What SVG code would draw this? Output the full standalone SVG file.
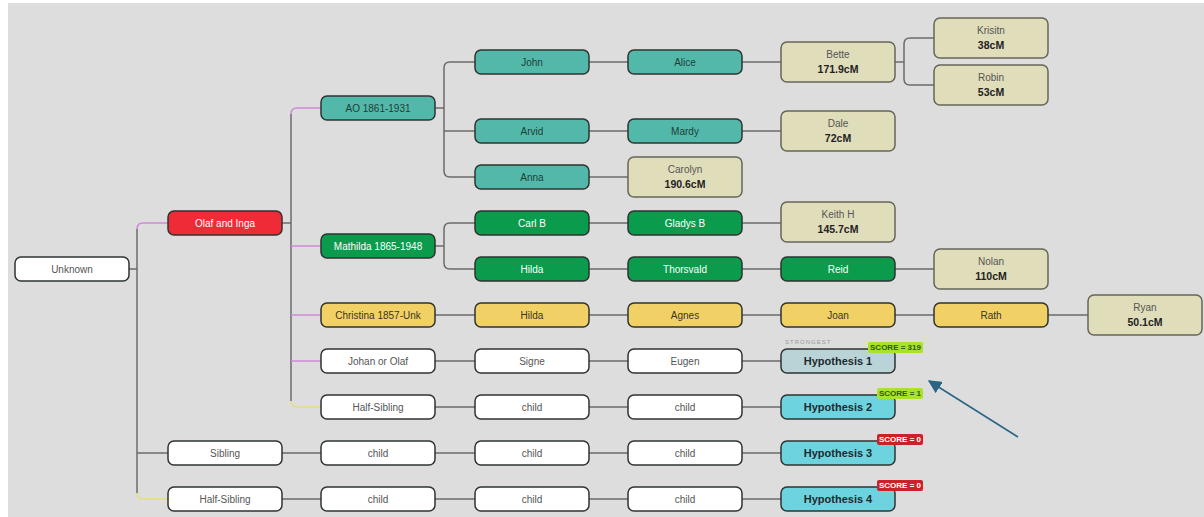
<svg xmlns="http://www.w3.org/2000/svg" width="1204" height="517" viewBox="0 0 1204 517">
<defs>
<style>
.n{stroke:#2e3430;stroke-width:1.5}
.w{fill:#ffffff}.t{fill:#52b9aa}.g{fill:#0b9b4c}.r{fill:#ee2b36}.y{fill:#f1d166}.c{fill:#e0ddba;stroke:#66665a}
.h1{fill:#b9d3d7}.h{fill:#6dd3df}
text{font-family:"Liberation Sans",Arial,sans-serif;font-size:10px;text-anchor:middle;dominant-baseline:central}
.tw{fill:#555}.tt{fill:#1f3d38}.tg{fill:#ffffff}.ty{fill:#3a3520}.tn{fill:#555}
.tb{font-weight:bold;fill:#222;font-size:10.5px}
.th{font-weight:bold;fill:#1d2a30;font-size:11px}
.ln{fill:none;stroke:#6b6b6b;stroke-width:1.5}
.pk{fill:none;stroke:#cf8ad6;stroke-width:1.5}
.yl{fill:none;stroke:#e3e07a;stroke-width:1.5}
.bg{fill:#a9e22c}.bt{fill:#2f5a10;font-size:8px;font-weight:bold}
.br{fill:#c92228}.brt{fill:#ffffff;font-size:8px;font-weight:bold}
</style>
<marker id="ah" viewBox="0 0 10 10" refX="9" refY="5" markerWidth="9" markerHeight="9" orient="auto"><path d="M0,0 L10,5 L0,10 z" fill="#2a6485"/></marker>
</defs>
<rect x="0" y="0" width="1204" height="517" fill="#ffffff"/>
<rect x="8" y="3" width="1196" height="514" fill="#dddddd"/>
<g id="connectors">
<path class="ln" d="M128,269 H137"/>
<path class="ln" d="M137,229 V493"/>
<path class="pk" d="M137,229 Q137,223 143,223 H168"/>
<path class="ln" d="M137,453 H168"/>
<path class="yl" d="M137,493 Q137,499 143,499 H168"/>
<path class="ln" d="M282,223 H291"/>
<path class="ln" d="M291,114 V401"/>
<path class="pk" d="M291,114 Q291,108 297,108 H321"/>
<path class="pk" d="M291,246 H321"/>
<path class="pk" d="M291,315 H321"/>
<path class="pk" d="M291,361 H321"/>
<path class="yl" d="M291,401 Q291,407 297,407 H321"/>
<path class="ln" d="M435,108 H444"/>
<path class="ln" d="M475,62 H450 Q444,62 444,68 V171 Q444,177 450,177 H475"/>
<path class="ln" d="M444,131 H475"/>
<path class="ln" d="M435,246 H444"/>
<path class="ln" d="M475,223 H450 Q444,223 444,229 V263 Q444,269 450,269 H475"/>
<path class="ln" d="M895,62 H904"/>
<path class="ln" d="M934,38 H910 Q904,38 904,44 V79 Q904,85 910,85 H934"/>
<path class="ln" d="M589,62 H628 M742,62 H781"/>
<path class="ln" d="M589,131 H628 M742,131 H781"/>
<path class="ln" d="M589,177 H628"/>
<path class="ln" d="M589,223 H628 M742,223 H781"/>
<path class="ln" d="M589,269 H628 M742,269 H781 M895,269 H934"/>
<path class="ln" d="M435,315 H475 M589,315 H628 M742,315 H781 M895,315 H934 M1048,315 H1088"/>
<path class="ln" d="M435,361 H475 M589,361 H628 M742,361 H781"/>
<path class="ln" d="M435,407 H475 M589,407 H628 M742,407 H781"/>
<path class="ln" d="M282,453 H321 M435,453 H475 M589,453 H628 M742,453 H781"/>
<path class="ln" d="M282,499 H321 M435,499 H475 M589,499 H628 M742,499 H781"/>
</g>
<g id="n-unknown"><rect class="n w" x="15" y="257" width="114" height="24" rx="6"/><text class="tw" x="72" y="269">Unknown</text></g>
<g id="n-olaf-inga"><rect class="n r" x="168" y="211" width="114" height="24" rx="6"/><text class="tg" x="225" y="223">Olaf and Inga</text></g>
<g id="n-sibling"><rect class="n w" x="168" y="441" width="114" height="24" rx="6"/><text class="tw" x="225" y="453">Sibling</text></g>
<g id="n-halfsib-a"><rect class="n w" x="168" y="487" width="114" height="24" rx="6"/><text class="tw" x="225" y="499">Half-Sibling</text></g>
<g id="n-ao"><rect class="n t" x="321" y="96" width="114" height="24" rx="6"/><text class="tt" x="378" y="108">AO 1861-1931</text></g>
<g id="n-mathilda"><rect class="n g" x="321" y="234" width="114" height="24" rx="6"/><text class="tg" x="378" y="246">Mathilda 1865-1948</text></g>
<g id="n-christina"><rect class="n y" x="321" y="303" width="114" height="24" rx="6"/><text class="ty" x="378" y="315">Christina 1857-Unk</text></g>
<g id="n-johan"><rect class="n w" x="321" y="349" width="114" height="24" rx="6"/><text class="tw" x="378" y="361">Johan or Olaf</text></g>
<g id="n-halfsib-b"><rect class="n w" x="321" y="395" width="114" height="24" rx="6"/><text class="tw" x="378" y="407">Half-Sibling</text></g>
<g id="n-child-3a"><rect class="n w" x="321" y="441" width="114" height="24" rx="6"/><text class="tw" x="378" y="453">child</text></g>
<g id="n-child-3b"><rect class="n w" x="321" y="487" width="114" height="24" rx="6"/><text class="tw" x="378" y="499">child</text></g>
<g id="n-john"><rect class="n t" x="475" y="50" width="114" height="24" rx="6"/><text class="tt" x="532" y="62">John</text></g>
<g id="n-arvid"><rect class="n t" x="475" y="119" width="114" height="24" rx="6"/><text class="tt" x="532" y="131">Arvid</text></g>
<g id="n-anna"><rect class="n t" x="475" y="165" width="114" height="24" rx="6"/><text class="tt" x="532" y="177">Anna</text></g>
<g id="n-carlb"><rect class="n g" x="475" y="211" width="114" height="24" rx="6"/><text class="tg" x="532" y="223">Carl B</text></g>
<g id="n-hilda-g"><rect class="n g" x="475" y="257" width="114" height="24" rx="6"/><text class="tg" x="532" y="269">Hilda</text></g>
<g id="n-hilda-y"><rect class="n y" x="475" y="303" width="114" height="24" rx="6"/><text class="ty" x="532" y="315">Hilda</text></g>
<g id="n-signe"><rect class="n w" x="475" y="349" width="114" height="24" rx="6"/><text class="tw" x="532" y="361">Signe</text></g>
<g id="n-child-4a"><rect class="n w" x="475" y="395" width="114" height="24" rx="6"/><text class="tw" x="532" y="407">child</text></g>
<g id="n-child-4b"><rect class="n w" x="475" y="441" width="114" height="24" rx="6"/><text class="tw" x="532" y="453">child</text></g>
<g id="n-child-4c"><rect class="n w" x="475" y="487" width="114" height="24" rx="6"/><text class="tw" x="532" y="499">child</text></g>
<g id="n-alice"><rect class="n t" x="628" y="50" width="114" height="24" rx="6"/><text class="tt" x="685" y="62">Alice</text></g>
<g id="n-mardy"><rect class="n t" x="628" y="119" width="114" height="24" rx="6"/><text class="tt" x="685" y="131">Mardy</text></g>
<g id="n-carolyn"><rect class="n c" x="628" y="157" width="114" height="40" rx="6"/><text class="tn" x="685" y="169">Carolyn</text><text class="tb" x="685" y="184">190.6cM</text></g>
<g id="n-gladys"><rect class="n g" x="628" y="211" width="114" height="24" rx="6"/><text class="tg" x="685" y="223">Gladys B</text></g>
<g id="n-thorsvald"><rect class="n g" x="628" y="257" width="114" height="24" rx="6"/><text class="tg" x="685" y="269">Thorsvald</text></g>
<g id="n-agnes"><rect class="n y" x="628" y="303" width="114" height="24" rx="6"/><text class="ty" x="685" y="315">Agnes</text></g>
<g id="n-eugen"><rect class="n w" x="628" y="349" width="114" height="24" rx="6"/><text class="tw" x="685" y="361">Eugen</text></g>
<g id="n-child-5a"><rect class="n w" x="628" y="395" width="114" height="24" rx="6"/><text class="tw" x="685" y="407">child</text></g>
<g id="n-child-5b"><rect class="n w" x="628" y="441" width="114" height="24" rx="6"/><text class="tw" x="685" y="453">child</text></g>
<g id="n-child-5c"><rect class="n w" x="628" y="487" width="114" height="24" rx="6"/><text class="tw" x="685" y="499">child</text></g>
<g id="n-bette"><rect class="n c" x="781" y="42" width="114" height="40" rx="6"/><text class="tn" x="838" y="54">Bette</text><text class="tb" x="838" y="69">171.9cM</text></g>
<g id="n-dale"><rect class="n c" x="781" y="111" width="114" height="40" rx="6"/><text class="tn" x="838" y="123">Dale</text><text class="tb" x="838" y="138">72cM</text></g>
<g id="n-keith"><rect class="n c" x="781" y="202" width="114" height="40" rx="6"/><text class="tn" x="838" y="214">Keith H</text><text class="tb" x="838" y="229">145.7cM</text></g>
<g id="n-reid"><rect class="n g" x="781" y="257" width="114" height="24" rx="6"/><text class="tg" x="838" y="269">Reid</text></g>
<g id="n-joan"><rect class="n y" x="781" y="303" width="114" height="24" rx="6"/><text class="ty" x="838" y="315">Joan</text></g>
<g id="n-hyp1"><text x="785" y="342" style="font-size:6px;fill:#999;text-anchor:start;letter-spacing:1px">STRONGEST</text><rect class="n h1" x="781" y="349" width="114" height="24" rx="6"/><text class="th" x="838" y="361">Hypothesis 1</text><rect class="bg" x="868" y="342" width="55" height="11" rx="2"/><text class="bt" x="895.5" y="347.5">SCORE = 319</text></g>
<g id="n-hyp2"><rect class="n h" x="781" y="395" width="114" height="24" rx="6"/><text class="th" x="838" y="407">Hypothesis 2</text><rect class="bg" x="877" y="388" width="46" height="11" rx="2"/><text class="bt" x="900" y="393.5">SCORE = 1</text></g>
<g id="n-hyp3"><rect class="n h" x="781" y="441" width="114" height="24" rx="6"/><text class="th" x="838" y="453">Hypothesis 3</text><rect class="br" x="877" y="434" width="46" height="11" rx="2"/><text class="brt" x="900" y="439.5">SCORE = 0</text></g>
<g id="n-hyp4"><rect class="n h" x="781" y="487" width="114" height="24" rx="6"/><text class="th" x="838" y="499">Hypothesis 4</text><rect class="br" x="877" y="480" width="46" height="11" rx="2"/><text class="brt" x="900" y="485.5">SCORE = 0</text></g>
<g id="n-krisitn"><rect class="n c" x="934" y="18" width="114" height="40" rx="6"/><text class="tn" x="991" y="30">Krisitn</text><text class="tb" x="991" y="45">38cM</text></g>
<g id="n-robin"><rect class="n c" x="934" y="65" width="114" height="40" rx="6"/><text class="tn" x="991" y="77">Robin</text><text class="tb" x="991" y="92">53cM</text></g>
<g id="n-nolan"><rect class="n c" x="934" y="249" width="114" height="40" rx="6"/><text class="tn" x="991" y="261">Nolan</text><text class="tb" x="991" y="276">110cM</text></g>
<g id="n-rath"><rect class="n y" x="934" y="303" width="114" height="24" rx="6"/><text class="ty" x="991" y="315">Rath</text></g>
<g id="n-ryan"><rect class="n c" x="1088" y="295" width="114" height="40" rx="6"/><text class="tn" x="1145" y="307">Ryan</text><text class="tb" x="1145" y="322">50.1cM</text></g>
<g id="arrow"><path d="M1018,437 L929,381" fill="none" stroke="#2a6485" stroke-width="1.5" marker-end="url(#ah)"/></g>
</svg>
